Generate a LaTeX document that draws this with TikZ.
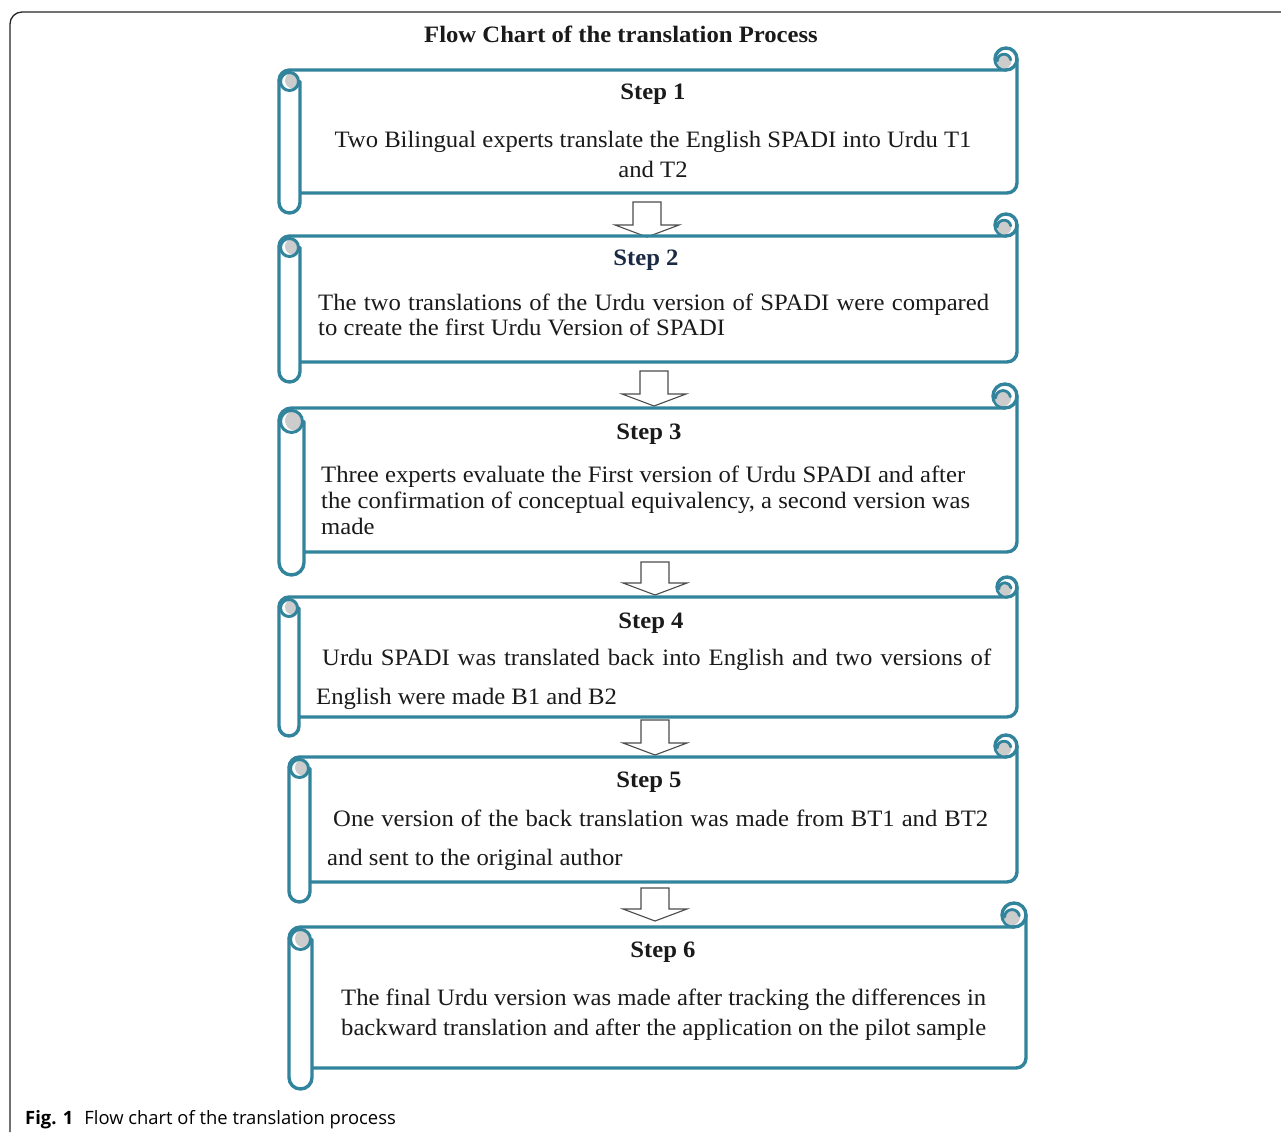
\documentclass[tikz,border=0pt]{standalone}
\usepackage{fontspec}
\setmainfont{Liberation Serif}[FakeStretch=1.05]
\newfontfamily\capfont{Open Sans}
\definecolor{scrollc}{HTML}{31849B}
\definecolor{curlgray}{HTML}{CCCCCC}
\definecolor{txtc}{HTML}{1A1A1A}
\definecolor{stepblue}{HTML}{1B2A44}

% #1 xl, #2 xr, #3 top y, #4 bottom y, #5 roll bottom y, #6 right x, #7 curl radius (pixel units, y downward)
\newcommand{\Scroll}[7]{%
  \pgfmathsetmacro\rr{(#2-#1)/2}%
  \pgfmathsetmacro\xm{(#1+#2)/2}%
  % top line
  \draw[scrl] (#1,-#3-\rr) arc[start angle=180,end angle=90,radius=\rr] -- (#6-#7,-#3);
  % right side and bottom line
  \draw[scrl] (#6,-#3+#7) -- (#6,-#4+10) arc[start angle=0,end angle=-90,radius=10] -- (#2,-#4);
  % curl at top right
  \draw[scrl,fill=white] (#6-#7,-#3+#7) circle[radius=#7];
  \begin{scope}
    \clip (#6-#7,-#3+#7) circle[radius=#7-1];
    \fill[curlgray] (#6-#7-2,-#3+#7-2) circle[radius=#7*0.68];
  \end{scope}
  \draw[scrl,line width=2.8pt] (#6-#7-2-#7*0.62,-#3+#7-2) arc[start angle=180,end angle=10,radius=#7*0.62];
  % roll on the left
  \draw[scrl,fill=white] (#1,-#3-\rr) -- (#1,-#5+\rr) arc[start angle=180,end angle=360,radius=\rr] -- (#2,-#3-\rr-1);
  \begin{scope}
    \clip (\xm,-#3-\rr-1) circle[radius=\rr-1.5];
    \fill[curlgray] (\xm+3.5,-#3-\rr) circle[radius=\rr-2.5];
  \end{scope}
  \draw[scrl,line width=3pt] (\xm,-#3-\rr-1) circle[radius=\rr-1.5];
}

% block arrow: #1 centre x, #2 top y, #3 tip y
\newcommand{\BArrow}[3]{%
  \draw[barrow] (#1-14,-#2) -- (#1+14,-#2) -- (#1+14,-#3+12) -- (#1+32,-#3+12)
    -- (#1,-#3) -- (#1-32,-#3+12) -- (#1-14,-#3+12) -- cycle;
}

\begin{document}
\begin{tikzpicture}[x=1pt,y=1pt,
  scrl/.style={draw=scrollc,line width=3.4pt,line cap=round,line join=round},
  barrow/.style={draw=black!70,line width=1.1pt,fill=white,line join=miter},
  txt/.style={inner sep=0pt,text=txtc,font=\fontsize{23.5}{28}\selectfont},
  steplab/.style={inner sep=0pt,text=txtc,font=\fontsize{23.5}{28}\selectfont\bfseries,anchor=base},
  frameline/.style={draw=black!85,line width=1.3pt}]
\useasboundingbox (0,0) rectangle (1281,-1132);
\fill[white] (0,0) rectangle (1281,-1132);

% outer frame
\draw[frameline] (10,-1132) -- (10,-24) arc[start angle=180,end angle=90,radius=12] -- (1281,-12);

% title
\node[steplab] (title) at (621,-43) {Flow Chart of the translation Process};

% arrows (drawn under the scroll outlines)
\BArrow{647}{202}{237}
\BArrow{654}{371}{406}
\BArrow{655}{562}{595}
\BArrow{655}{720}{755}
\BArrow{655}{888}{921}

% scrolls
\Scroll{279}{300}{70}{193}{213}{1017}{11}
\Scroll{279}{300}{236}{362}{382}{1017}{11}
\Scroll{279}{304}{408}{552}{575}{1017}{12}
\Scroll{279}{299}{597}{717}{736}{1017}{10}
\Scroll{289}{310}{757}{882}{902}{1017}{11}
\Scroll{289}{312}{927}{1068}{1089}{1026}{12}

% Step 1
\node[steplab] (s1) at (653,-99) {Step 1};
\node[txt,anchor=base] (s1a) at (653,-147) {Two Bilingual experts translate the English SPADI into Urdu T1};
\node[txt,anchor=base] (s1b) at (653,-177) {and T2};

% Step 2
\node[steplab,text=stepblue] (s2) at (646,-265) {Step 2};
\node[txt,anchor=base west] (s2a) at (318,-310) {\makebox[671pt][s]{The two translations of the Urdu version of SPADI were compared}};
\node[txt,anchor=base west] (s2b) at (318,-335) {to create the first Urdu Version of SPADI};

% Step 3
\node[steplab] (s3) at (649,-439) {Step 3};
\node[txt,anchor=base west] (s3a) at (321,-482) {\makebox[644pt][s]{Three experts evaluate the First version of Urdu SPADI and after}};
\node[txt,anchor=base west] (s3b) at (321,-508) {\makebox[649pt][s]{the confirmation of conceptual equivalency, a second version was}};
\node[txt,anchor=base west] (s3c) at (321,-534) {made};

% Step 4
\node[steplab] (s4) at (651,-628) {Step 4};
\node[txt,anchor=base west] (s4a) at (322,-665) {\makebox[669pt][s]{Urdu SPADI was translated back into English and two versions of}};
\node[txt,anchor=base west] (s4b) at (316,-704) {English were made B1 and B2};

% Step 5
\node[steplab] (s5) at (649,-787) {Step 5};
\node[txt,anchor=base west] (s5a) at (333,-826) {\makebox[655pt][s]{One version of the back translation was made from BT1 and BT2}};
\node[txt,anchor=base west] (s5b) at (327,-865) {and sent to the original author};

% Step 6
\node[steplab] (s6) at (663,-957) {Step 6};
\node[txt,anchor=base west] (s6a) at (341,-1005) {\makebox[645pt][s]{The final Urdu version was made after tracking the differences in}};
\node[txt,anchor=base west] (s6b) at (341,-1035) {\makebox[645pt][s]{backward translation and after the application on the pilot sample}};

% caption
\node[inner sep=0pt,anchor=base west,text=black,font=\capfont\fontsize{18.4}{22}\selectfont] (cap) at (25,-1124)
  {\textbf{Fig. 1}\hspace{11pt}Flow chart of the translation process};
\end{tikzpicture}
\end{document}
